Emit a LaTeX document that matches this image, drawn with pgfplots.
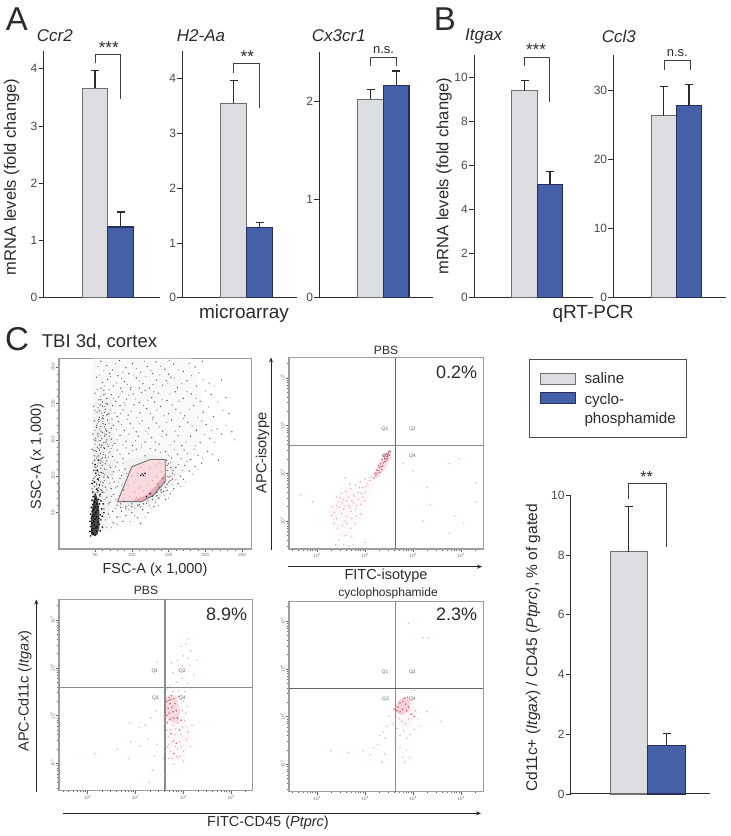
\documentclass[border=0pt]{standalone}
\usepackage{pgfplots}
\pgfplotsset{compat=1.18}
\usepackage{fontspec}
\setmainfont{Liberation Sans}
\usetikzlibrary{arrows.meta}
\definecolor{salc}{HTML}{DCDEE2}
\definecolor{sale}{HTML}{6F6F6F}
\definecolor{cycc}{HTML}{4660A8}
\definecolor{cyce}{HTML}{26305A}
\definecolor{txt}{HTML}{2B2B2B}
\definecolor{tick}{HTML}{4A4A4A}
\definecolor{frame}{HTML}{9C9C9C}
\definecolor{quad}{HTML}{8A8A8A}
\definecolor{rd}{HTML}{E8A0AC}
\definecolor{rdd}{HTML}{C9566E}
\definecolor{pk}{HTML}{F4C4CB}
\newcommand\fs[1]{\fontsize{#1}{#1}\selectfont}
% #1 left, #2 bottom, #3 w, #4 h, #5 ymax, #6 ticks, #7 bar width, #8 saline, #9 cyclo
\newcommand\barpanel[9]{%
\begin{axis}[at={(#1pt,#2pt)},anchor=south west,scale only axis,width=#3pt,height=#4pt,
  xmin=0,xmax=#3,ymin=0,ymax=#5,axis lines=left,axis line style={-,draw=txt,line width=1pt},
  xtick=\empty,ytick={#6},tick align=outside,major tick length=5pt,
  tick style={draw=txt,line width=.8pt},clip=false,
  yticklabel style={font=\fs{12},text=tick,inner sep=1pt},
  /pgf/number format/assume math mode=true,scaled y ticks=false]
\addplot[ybar,bar width=#7pt,bar shift=0pt,fill=salc,draw=sale,line width=1.1pt,
  error bars/.cd,y dir=plus,y explicit,error bar style={draw=txt,line width=1.1pt},
  error mark options={draw=txt,rotate=90,mark size=4pt,line width=1.1pt}] coordinates {#8};
\addplot[ybar,bar width=#7pt,bar shift=0pt,fill=cycc,draw=cyce,line width=1.1pt,
  error bars/.cd,y dir=plus,y explicit,error bar style={draw=txt,line width=1.1pt},
  error mark options={draw=txt,rotate=90,mark size=4pt,line width=1.1pt}] coordinates {#9};
\end{axis}}
\newcommand\minlog{1.48,1.6,1.7,1.78,1.85,1.9,1.95,2.3,2.48,2.6,2.7,2.78,2.85,2.9,2.95,3.3,3.48,3.6,3.7,3.78,3.85,3.9,3.95,4.3,4.48,4.6,4.7,4.78,4.85,4.9,4.95,5.3}
\pgfplotsset{flow/.style={anchor=south west,scale only axis,
  axis line style={draw=frame,line width=1.1pt},
  tick align=outside,tick pos=left,major tick length=3.2pt,minor tick length=1.6pt,
  tick style={draw=black!60,line width=.45pt},
  xticklabel style={font=\fs{4.5},text=black!55,inner sep=1pt},
  yticklabel style={font=\fs{4.5},text=black!55,inner sep=1pt,rotate=90},
  clip=true},
  logflow/.style={flow,xtick={2,3,4,5},ytick={2,3,4,5},
  minor xtick=\minlog,minor ytick=\minlog,
  xticklabels={10\textsuperscript{2},10\textsuperscript{3},10\textsuperscript{4},10\textsuperscript{5}},
  yticklabels={10\textsuperscript{2},10\textsuperscript{3},10\textsuperscript{4},10\textsuperscript{5}}},
  pts/.style={only marks,mark=*,mark size=.5pt,rd,mark options={draw=none,fill=rd,opacity=.75}},
  ptsd/.style={only marks,mark=*,mark size=.6pt,rdd,mark options={draw=none,fill=rdd,opacity=.75}},
  quadl/.style={draw=quad,line width=1.1pt}}
\newcommand\qlabels[2]{%
  \node[font=\fs{5},text=black!60] at (axis cs:#1-.21,#2+.34) {Q1};
  \node[font=\fs{5},text=black!60] at (axis cs:#1+.36,#2+.34) {Q2};
  \node[font=\fs{5},text=black!60] at (axis cs:#1-.2,#2-.23) {Q3};
  \node[font=\fs{5},text=black!60] at (axis cs:#1+.36,#2-.23) {Q4};}
\begin{document}
\begin{tikzpicture}
\useasboundingbox (0,0) rectangle (731pt,836pt);
\fill[white] (0,0) rectangle (731pt,836pt);
% ---------- bar panels
\barpanel{43.5}{538.3}{116.5}{247}{4.314}{0,1,2,3,4}{25.6}{(51.5,3.66) +- (0,0.305)}{(77,1.234) +- (0,0.262)}
\barpanel{182.3}{538.3}{114.4}{247}{4.511}{0,1,2,3,4}{26}{(51.2,3.55) +- (0,0.41)}{(77.4,1.285) +- (0,0.091)}
\barpanel{319.3}{538.3}{113.7}{246}{2.506}{0,1,2}{25.6}{(51.2,2.02) +- (0,0.102)}{(76.9,2.163) +- (0,0.146)}
\barpanel{474}{538.3}{119}{242.7}{11.02}{0,2,4,6,8,10}{25.4}{(50.5,9.395) +- (0,0.465)}{(76,5.16) +- (0,0.59)}
\barpanel{613.3}{538.3}{112.4}{242.7}{35.06}{0,10,20,30}{25.3}{(50.4,26.3) +- (0,4.27)}{(75.7,27.7) +- (0,3.16)}
\barpanel{570.7}{42}{139.3}{298.7}{10}{0,2,4,6,8,10}{37.6}{(58.15,8.11) +- (0,1.51)}{(95.8,1.62) +- (0,0.40)}
% ---------- FSC / SSC
\begin{axis}[flow,at={(59pt,287pt)},width=192.7pt,height=190.7pt,xmin=1,xmax=263,ymin=0,ymax=262,
  xtick={50,100,150,200,250},ytick={50,100,150,200,250},minor x tick num=4,minor y tick num=4,
  /pgf/number format/assume math mode=true]
\addplot[fill=black!4,draw=none,opacity=.6] coordinates {(47,262)(180,262)(200,190)(190,135)(160,95)(135,65)(100,45)(70,25)(45,20)} --cycle;
\addplot[fill=black!7,draw=none,opacity=.6] coordinates {(48,200)(72,210)(76,150)(74,100)(72,60)(62,24)(45,20)} --cycle;
\addplot[fill=black!7,draw=none,opacity=.6] coordinates {(90,122)(125,130)(160,120)(160,95)(135,66)(105,52)(80,60)} --cycle;
\addplot[only marks,mark=*,mark size=.4pt,mark options={draw=none,fill=black,opacity=.32}] coordinates {
(54,251)(62,245)(78,255)(88,243)(106,248)(117,258)(126,245)(139,251)(151,259)(163,246)(178,255)(191,242)
(56,239)(63,224)(71,237)(79,228)(86,234)(94,226)(103,239)(111,231)(119,237)(129,226)(138,239)(149,228)(158,235)(168,227)(181,238)(197,233)(212,224)
(53,219)(58,210)(64,213)(69,219)(75,207)(84,213)(90,201)(96,211)(105,206)(113,215)(122,204)(130,216)(141,205)(152,213)(164,203)(175,216)(187,207)(200,217)(217,202)
(50,190)(54,194)(59,186)(63,196)(66,184)(71,191)(77,187)(85,186)(91,198)(99,189)(107,181)(116,197)(125,186)(134,191)(144,183)(155,198)(166,187)(178,192)(190,181)(204,195)(224,190)
(50,163)(53,172)(56,165)(60,175)(63,168)(66,161)(69,173)(73,178)(79,164)(86,171)(94,178)(102,166)(110,172)(119,162)(128,178)(138,168)(147,174)(159,162)(170,179)(182,169)(195,176)(208,163)(228,170)
(48,150)(50,144)(53,159)(55,148)(57,156)(60,142)(63,158)(67,144)(70,155)(74,142)(80,150)(88,143)(96,158)(105,149)(113,143)(122,158)(132,147)(141,155)(152,143)(163,156)(174,147)(186,142)(199,157)(212,146)(240,150)
(48,135)(50,122)(53,127)(55,138)(58,124)(61,133)(64,129)(68,126)(72,138)(77,122)(84,130)(92,139)(101,135)(113,139)(125,138)(139,133)(150,128)(158,137)(167,124)(176,131)(185,137)(196,125)(210,130)
(49,113)(52,101)(54,118)(57,105)(60,119)(63,102)(66,109)(69,115)(73,102)(78,113)(83,108)(88,118)(93,104)(148,100)(153,119)(158,102)(163,116)(169,108)(175,120)(182,103)(190,110)
(50,92)(53,83)(56,98)(60,87)(63,94)(66,81)(70,90)(74,97)(78,84)(82,92)(86,88)(135,90)(139,80)(144,92)(150,99)(155,88)(160,95)(166,86)(173,92)
(58,72)(62,78)(64,68)(68,62)(72,72)(78,68)(84,74)(90,66)(96,60)(104,56)(112,58)(124,60)(132,64)(138,70)(144,74)(150,70)(156,80)
(58,48)(64,40)(70,44)(78,56)(84,44)(96,54)(104,46)(118,44)(126,56)(136,60)(72,30)(66,30)(80,34)(98,38)};
\addplot[only marks,mark=*,mark size=.45pt,mark options={draw=none,fill=black,opacity=.5}] coordinates {
(58,258)(66,252)(74,246)(83,259)(92,249)(101,255)(112,243)(121,251)(133,257)(145,247)(157,254)(170,244)(186,250)(196,258)(70,241)(96,241)(128,241)(150,240)
(52,236)(60,229)(67,233)(75,224)(81,238)(90,230)(99,222)(106,235)(115,227)(124,221)(134,232)(142,225)(153,236)(162,222)(175,231)(188,224)(205,228)(222,232)(58,221)(85,221)(110,221)(147,231)
(50,214)(55,205)(62,218)(66,207)(72,212)(78,203)(87,216)(93,206)(102,213)(110,201)(118,218)(127,208)(136,214)(148,204)(159,216)(170,207)(181,213)(193,203)(208,212)(228,208)(60,202)(82,209)(98,219)(131,202)
(48,196)(53,188)(57,198)(61,183)(64,192)(69,186)(74,197)(80,182)(88,191)(95,184)(103,198)(111,187)(120,193)(129,181)(139,196)(150,186)(160,192)(172,183)(184,197)(197,188)(211,182)(232,186)(56,181)(67,199)(84,197)
(49,176)(52,167)(55,178)(58,162)(61,172)(64,165)(67,177)(70,160)(75,170)(82,175)(90,163)(98,172)(106,161)(114,176)(123,166)(133,173)(142,162)(154,177)(165,168)(176,174)(188,163)(201,171)(216,165)(236,161)(60,180)(72,166)
(47,158)(51,149)(54,155)(56,143)(59,152)(62,146)(65,157)(68,141)(72,151)(77,145)(84,156)(92,148)(101,142)(109,155)(118,147)(127,153)(137,144)(147,157)(158,148)(168,142)(180,155)(193,146)(206,152)(222,158)(58,140)(66,150)
(46,137)(49,128)(52,134)(54,122)(57,131)(60,125)(63,138)(66,121)(70,133)(74,127)(80,136)(88,124)(96,131)(106,137)(118,128)(132,136)(146,134)(154,125)(162,130)(171,136)(180,123)(190,129)(203,134)(218,122)
(47,118)(50,108)(53,114)(55,102)(58,111)(61,104)(64,117)(67,100)(71,112)(75,106)(80,119)(86,101)(91,110)(150,117)(155,104)(160,112)(166,100)(172,115)(178,107)(186,113)(195,118)
(48,97)(52,88)(55,94)(58,82)(61,91)(64,85)(68,98)(72,83)(76,92)(80,86)(84,97)(89,81)(137,85)(142,97)(148,89)(152,94)(157,83)(163,90)(170,96)(148,80)
(60,78)(66,71)(70,64)(75,75)(80,60)(85,62)(92,58)(100,62)(110,61)(120,63)(128,68)(134,73)(140,78)(146,68)(152,76)
(62,55)(68,48)(74,52)(80,44)(86,52)(92,46)(100,50)(108,43)(115,54)(122,50)(130,58)(112,35)(88,38)(75,36)
(47,72)(50,75)(53,78)(56,73)(59,80)(46,83)(49,86)(52,90)(55,84)(58,92)(47,94)(50,99)(53,96)(56,101)(59,105)(62,99)(48,108)(51,112)(54,106)(57,118)(60,115)(63,110)(49,122)(52,125)(55,128)(58,121)(61,130)(64,126)(50,135)(53,140)(56,136)(59,143)(62,139)(65,147)(51,152)(54,158)(57,149)(60,160)(63,155)(66,163)(52,170)(55,175)(58,168)(61,179)(64,171)(67,185)(56,190)(60,196)(63,188)(58,205)(62,212)(65,200)
(148,108)(152,100)(155,96)(150,92)(146,85)(140,82)(134,78)(128,72)(122,66)(116,62)(108,60)(100,58)(92,55)(85,57)(148,115)(153,112)(147,122)(156,108)(143,79)(136,70)};
\addplot[fill=black,draw=none,opacity=.7] coordinates {(45,19)(53,19)(56,30)(56,50)(54,68)(50,78)(47,62)(44,38)} --cycle;
\addplot[only marks,mark=*,mark size=.65pt,mark options={draw=none,fill=black,opacity=.85}] coordinates {
(44,18)(46,22)(45,26)(48,20)(50,19)(52,24)(47,28)(44,31)(49,33)(51,29)(53,31)(46,35)(43,38)(48,38)(50,41)(54,37)(56,34)(45,42)(47,45)(52,44)(55,42)(49,47)(44,48)(46,52)(51,50)(53,53)(57,47)(48,55)(50,58)(45,57)(54,58)(47,61)(52,62)(49,65)(56,62)(46,67)(51,69)(55,68)(48,72)(60,45)(59,55)(58,66)(47,78)(52,82)(49,92)(54,96)(51,104)(58,40)(60,30)(57,25)(43,24)(62,50)(61,62)(57,75)(54,80)(46,90)(53,108)(56,88)(50,116)(55,122)};
% gate P1
\addplot[fill=pk!65!white,draw=none] coordinates {(80.5,65)(100,113)(125,123)(145.5,123)(145.5,92.7)(129.5,74)(113.6,65)} --cycle;
\addplot[fill=rdd,draw=none,opacity=.35] coordinates {(113.6,65)(129.5,74)(145.5,92.7)(145.5,104)(132,86)(118,73)(100,67)} --cycle;
\addplot[pts] coordinates {(90,75)(97,72)(104,78)(95,88)(103,92)(110,84)(116,80)(122,88)(128,94)(134,99)(140,106)(118,100)(108,104)(112,112)(124,112)(132,115)(138,118)(141,96)(126,78)(136,88)(100,100)(106,71)(88,70)(120,72)};
\addplot[only marks,mark=*,mark size=.55pt,mark options={draw=none,fill=black!70}] coordinates {(114,103)(116,101)(118,104)(112,101)(120,72)(125,76)};
\addplot[draw=black!55,line width=.9pt] coordinates {(80.5,65)(100,113)(125,123)(145.5,123)(145.5,92.7)(129.5,74)(113.6,65)(80.5,65)};
\end{axis}
% ---------- isotype
\begin{axis}[logflow,at={(289pt,287pt)},width=194.3pt,height=191.3pt,xmin=1.41,xmax=5.458,ymin=1.413,ymax=5.42]
\addplot[fill=pk,draw=none,opacity=.55] coordinates {(3.52,3.5)(3.36,3.38)(3.18,2.98)(3.24,2.88)(3.42,3.1)(3.54,3.35)} --cycle;
\addplot[fill=pk,draw=none,opacity=.1] coordinates {(3.2,3.0)(2.5,2.7)(2.2,2.2)(2.5,1.6)(2.9,2.0)(3.2,2.8)} --cycle;
\addplot[pts] coordinates {(3.1,2.85)(3.05,2.78)(3.0,2.88)(2.95,2.7)(2.9,2.82)(2.85,2.6)(2.8,2.75)(2.75,2.55)(2.7,2.68)(2.65,2.5)(2.6,2.62)(2.55,2.45)(2.5,2.58)(2.45,2.4)(2.4,2.5)(2.95,2.5)(2.9,2.35)(2.85,2.45)(2.8,2.25)(2.75,2.38)(2.7,2.2)(2.65,2.32)(2.6,2.1)(2.55,2.25)(2.5,2.15)(2.45,2.28)(2.4,2.05)(2.35,2.18)(2.3,2.3)(3.0,2.6)(2.72,2.05)(2.62,1.95)(2.78,1.95)(2.52,1.9)(2.42,1.85)(2.82,2.1)(2.9,2.15)(2.6,1.7)(2.72,1.68)(2.45,1.6)(2.55,1.5)(2.38,1.5)(2.65,1.48)(2.75,1.5)(2.78,1.42)(4.0,3.05)(3.78,3.2)(4.28,2.7)(4.35,2.35)(4.2,2.0)(4.75,3.2)(4.95,3.3)(5.3,2.8)(5.3,2.4)(4.85,2.1)(5.05,1.95)(4.75,1.75)(3.0,1.55)(1.65,2.55)(1.9,2.4)(2.98,2.42)(2.68,2.78)(2.58,2.9)(2.35,1.95)(2.62,2.42)(2.78,2.52)(2.88,2.7)(2.72,2.42)(2.58,2.32)(2.48,2.48)(2.68,2.28)(2.92,2.58)(3.02,2.72)(3.12,2.92)(2.52,2.38)(2.4,2.32)(2.3,2.12)(2.58,2.0)(2.7,1.85)(2.82,2.32)};
\addplot[ptsd] coordinates {(3.52,3.45)(3.48,3.42)(3.5,3.38)(3.45,3.35)(3.42,3.4)(3.4,3.3)(3.44,3.27)(3.38,3.22)(3.35,3.28)(3.36,3.15)(3.32,3.2)(3.3,3.12)(3.34,3.08)(3.27,3.06)(3.25,3.0)(3.3,3.02)(3.22,2.95)(3.18,2.9)(3.2,3.0)(3.47,3.31)(3.41,3.24)(3.46,3.39)(3.39,3.36)(3.33,3.14)(3.28,3.16)(3.24,3.07)(3.5,3.46)(3.43,3.31)};
\addplot[quadl,line width=.9pt,draw=black!60] coordinates {(3.62,1.413)(3.62,5.42)};
\addplot[quadl] coordinates {(1.41,3.59)(5.458,3.59)};
\qlabels{3.62}{3.59}
\end{axis}
% ---------- PBS Cd11c
\begin{axis}[logflow,at={(59pt,45.3pt)},width=193.7pt,height=191.4pt,xmin=1.4,xmax=5.447,ymin=1.426,ymax=5.434]
\addplot[fill=pk,draw=none,opacity=.55] coordinates {(3.65,3.42)(3.85,3.42)(3.93,3.1)(3.88,2.82)(3.68,2.9)(3.6,3.1)} --cycle;
\addplot[fill=pk,draw=none,opacity=.13] coordinates {(3.6,3.1)(3.95,3.3)(4.15,2.6)(4.0,2.0)(3.75,2.05)(3.58,2.6)} --cycle;
\addplot[pts] coordinates {(3.6,3.0)(3.62,2.85)(3.65,2.7)(3.68,2.55)(3.7,2.4)(3.73,2.25)(3.76,2.1)(3.8,1.98)(3.85,2.15)(3.88,2.3)(3.92,2.45)(3.95,2.6)(3.98,2.75)(4.02,2.9)(4.05,3.05)(4.08,3.2)(4.1,2.65)(4.14,2.35)(4.18,2.8)(4.0,3.3)(3.96,3.42)(4.03,3.5)(3.9,3.52)(3.82,2.6)(3.78,2.8)(3.86,2.95)(3.93,2.15)(4.0,2.25)(3.72,2.7)(3.77,2.45)(3.83,2.35)(3.67,2.35)(3.6,2.25)(3.58,2.1)(3.72,3.62)(3.85,3.7)(3.98,3.78)(4.08,3.68)(3.78,3.9)(3.9,3.95)(4.02,3.92)(4.12,4.05)(4.22,3.85)(3.75,4.1)(3.88,4.15)(4.0,4.25)(4.1,4.2)(4.16,4.35)(4.28,4.15)(3.95,4.45)(4.05,4.5)(4.1,4.6)(3.98,4.05)(3.42,3.1)(3.32,2.95)(3.2,2.8)(3.08,2.75)(2.88,2.85)(3.25,2.5)(3.45,2.4)(3.4,2.15)(3.1,2.35)(2.9,2.45)(2.62,2.3)(2.15,2.2)(2.85,2.1)(3.35,1.85)(3.62,1.6)(3.6,1.75)(3.28,1.6)(3.42,3.95)(3.45,4.12)(3.75,2.95)(3.84,2.72)(3.9,2.85)(3.98,3.1)(3.7,2.1)(3.8,2.48)(3.88,2.12)(3.95,2.35)(3.78,3.5)(3.66,3.55)(4.06,2.5)(4.0,2.05)};
\addplot[ptsd] coordinates {(3.65,3.3)(3.7,3.38)(3.75,3.42)(3.8,3.35)(3.72,3.25)(3.68,3.15)(3.76,3.18)(3.82,3.25)(3.78,3.08)(3.7,3.05)(3.65,3.0)(3.85,3.1)(3.88,2.95)(3.8,2.95)(3.72,2.92)(3.9,3.4)(3.66,2.85)(3.74,2.62)(3.92,2.7)(3.85,2.42)(3.8,2.2)(3.95,2.9)(3.7,3.32)(3.74,3.34)};
\addplot[quadl] coordinates {(3.614,1.426)(3.614,5.434)};
\addplot[quadl] coordinates {(1.4,3.585)(5.447,3.585)};
\qlabels{3.614}{3.585}
\end{axis}
% ---------- cyclophosphamide
\begin{axis}[logflow,at={(289pt,44.3pt)},width=194.3pt,height=190.4pt,xmin=1.41,xmax=5.458,ymin=1.426,ymax=5.413]
\addplot[fill=pk,draw=none,opacity=.7] coordinates {(3.66,3.3)(3.8,3.42)(3.93,3.35)(3.92,3.12)(3.75,3.02)(3.62,3.12)} --cycle;
\addplot[fill=pk,draw=none,opacity=.12] coordinates {(3.6,3.2)(3.95,3.5)(4.1,3.1)(3.95,2.75)(3.7,2.85)} --cycle;
\addplot[pts] coordinates {(3.64,3.05)(3.7,2.95)(3.76,2.9)(3.84,2.85)(3.9,2.95)(3.98,3.05)(4.04,3.12)(4.1,2.95)(4.14,2.8)(4.02,2.72)(3.94,2.62)(3.86,2.55)(3.8,2.7)(3.72,2.6)(3.66,2.75)(3.62,2.5)(3.56,2.85)(3.5,3.0)(3.45,2.8)(3.38,2.68)(3.42,2.55)(3.3,2.6)(3.25,2.42)(3.18,2.35)(3.4,2.22)(3.35,2.05)(3.72,2.35)(3.85,2.3)(3.92,2.15)(3.78,2.15)(4.58,2.9)(4.28,3.1)(4.2,4.65)(4.32,4.65)(3.9,4.95)(2.28,2.28)(2.65,2.25)(2.95,2.28)(3.1,2.2)(3.82,2.05)(4.02,3.55)(3.96,3.52)};
\addplot[ptsd] coordinates {(3.68,3.2)(3.72,3.28)(3.78,3.32)(3.84,3.26)(3.9,3.2)(3.86,3.12)(3.78,3.15)(3.72,3.1)(3.66,3.12)(3.82,3.38)(3.95,3.05)(3.6,3.15)(3.88,3.4)(4.02,3.0)};
\addplot[quadl] coordinates {(3.62,1.426)(3.62,5.413)};
\addplot[quadl,draw=black!60] coordinates {(1.41,3.585)(5.458,3.585)};
\qlabels{3.62}{3.585}
\end{axis}
% ---------- annotations in pixel coordinates
\begin{scope}[x=1pt,y=-1pt,yshift=836pt]
\tikzset{br/.style={draw=black!75,line width=.8pt},
  tx/.style={text=txt,inner sep=0pt}}
\node[tx,font=\fs{33}] at (17,19) {A};
\node[tx,font=\fs{33}] at (445,19) {B};
\node[tx,font=\fs{33}] at (17,339) {C};
\foreach \t/\x in {Ccr2/36.7,H2-Aa/176.7,Cx3cr1/311.7,Itgax/465,Ccl3/601.7}
  \node[tx,font=\fs{17}\itshape,anchor=west] at (\x,36) {\t};
\node[tx,font=\fs{16.5},rotate=90] at (11.7,177) {mRNA levels (fold change)};
\node[tx,font=\fs{16.5},rotate=90] at (444,176) {mRNA levels (fold change)};
\node[tx,font=\fs{19}] at (244,314) {microarray};
\node[tx,font=\fs{19}] at (593,314) {qRT-PCR};
\draw[br] (95.3,63.5)--(95.3,54.3)--(120.7,54.3)--(120.7,99);
\node[tx,font=\fs{17}] at (108.7,47.5) {***};
\draw[br] (233.5,73)--(233.5,63.3)--(259,63.3)--(259,108);
\node[tx,font=\fs{17}] at (247.3,57) {**};
\draw[br] (370.7,66)--(370.7,57.3)--(396,57.3)--(396,66.5);
\node[tx,font=\fs{13}] at (383.5,50.5) {n.s.};
\draw[br] (524.3,66)--(524.3,57)--(549.7,57)--(549.7,101.7);
\node[tx,font=\fs{17}] at (536,50) {***};
\draw[br] (664.7,70)--(664.7,60.3)--(690,60.3)--(690,70);
\node[tx,font=\fs{13}] at (677.3,53.5) {n.s.};
\draw[br] (628.7,498.7)--(628.7,483.7)--(666,483.7)--(666,547.3);
\node[tx,font=\fs{16}] at (646.7,477) {**};
\node[tx,font=\fs{18.5},anchor=west] at (41.7,342) {TBI 3d, cortex};
\node[tx,font=\fs{14.5}] at (155,570) {FSC-A (x 1,000)};
\node[tx,font=\fs{14.5},rotate=90] at (37,456.7) {SSC-A (x 1,000)};
\node[tx,font=\fs{12}] at (386,350) {PBS};
\node[tx,font=\fs{12}] at (146,590.7) {PBS};
\node[tx,font=\fs{12}] at (388,593) {cyclophosphamide};
\node[tx,font=\fs{18}] at (456.7,372) {0.2\%};
\node[tx,font=\fs{18}] at (226.7,614) {8.9\%};
\node[tx,font=\fs{18}] at (456.7,614) {2.3\%};
\node[tx,font=\fs{14.5},rotate=90] at (262.7,453) {APC-isotype};
\node[tx,font=\fs{14.5}] at (386,575.7) {FITC-isotype};
\node[tx,font=\fs{14.5},rotate=90] at (25,691) {APC-Cd11c (\textit{Itgax})};
\node[tx,font=\fs{14.5}] at (268,823) {FITC-CD45 (\textit{Ptprc})};
\tikzset{ar/.style={draw=black!85,line width=.9pt,-{Stealth[length=5pt,width=4pt]}}}
\draw[ar] (271,550)--(271,357.5);
\draw[ar] (288,566.7)--(482,566.7);
\draw[ar] (36.3,791.7)--(36.3,599.5);
\draw[ar] (62.7,813.3)--(481,813.3);
% legend
\draw[draw=black!70,line width=.9pt] (529.7,359) rectangle (686,437.7);
\draw[fill=salc,draw=sale,line width=1pt] (540.7,373.3) rectangle (575.3,384.3);
\draw[fill=cycc,draw=cyce,line width=1pt] (540.7,392.7) rectangle (575.3,403.7);
\node[tx,font=\fs{15.2},anchor=base west] at (584.3,384) {saline};
\node[tx,font=\fs{15.2},anchor=base west] at (584.3,405) {cyclo-};
\node[tx,font=\fs{15.2},anchor=base west] at (584.3,424) {phosphamide};
\node[tx,font=\fs{15.5},rotate=90] at (533,648) {Cd11c+ (\textit{Itgax}) / CD45 (\textit{Ptprc}), \% of gated};
\end{scope}
\end{tikzpicture}
\end{document}
